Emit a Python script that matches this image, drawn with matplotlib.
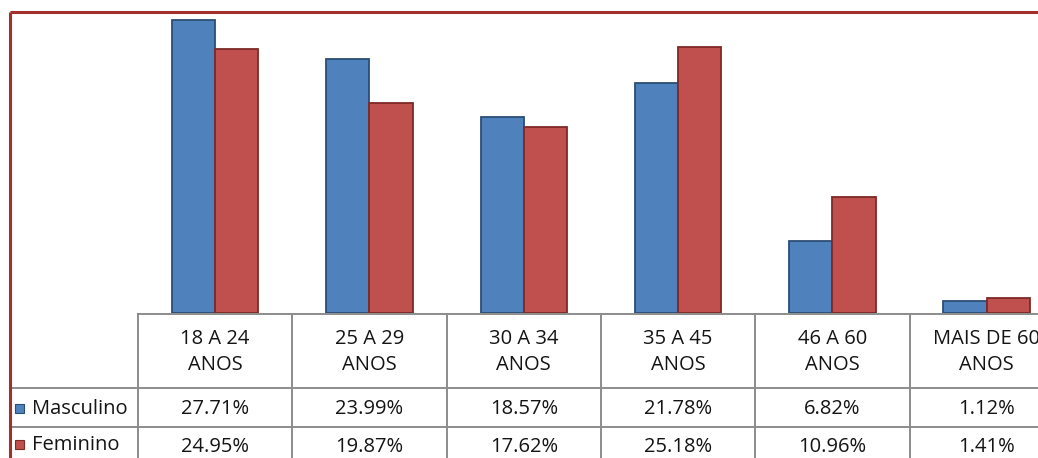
import matplotlib.pyplot as plt
import numpy as np

plt.rcParams['font.family'] = ['Open Sans', 'DejaVu Sans']

# Faixas etárias e percentuais por sexo
faixas = ['18 A 24\nANOS', '25 A 29\nANOS', '30 A 34\nANOS',
          '35 A 45\nANOS', '46 A 60\nANOS', 'MAIS DE 60\nANOS']
series = ['Masculino', 'Feminino']
masculino = [27.71, 23.99, 18.57, 21.78, 6.82, 1.12]
feminino = [24.95, 19.87, 17.62, 25.18, 10.96, 1.41]

cores = ['#4f81bd', '#c0504d']
bordas = ['#2c4d75', '#7d2a28']

W, H = 1038, 458
fig = plt.figure(figsize=(W / 100, H / 100), dpi=100)

# layout in pixels
col_w = 154.3
x0 = 138
base_y = 313
px_per_pct = 10.574
top_y = 12

ax = fig.add_axes([x0 / W, (H - base_y) / H, 6 * col_w / W, (base_y - top_y) / H])
x = np.arange(len(faixas)) + 0.5
bw = 0.28
for i, (vals, c, e) in enumerate(zip([masculino, feminino], cores, bordas)):
    ax.bar(x + (i - 0.5) * bw, vals, width=bw, color=c, edgecolor=e, linewidth=1.3)
ax.set_xlim(0, len(faixas))
ax.set_ylim(0, (base_y - top_y) / px_per_pct)
ax.axis('off')

# overlay in pixel coordinates for the data table and the frame
ov = fig.add_axes([0, 0, 1, 1], zorder=-1)
ov.set_xlim(0, W)
ov.set_ylim(H, 0)
ov.axis('off')

grid = '#8c8c8c'
row_top = 314
row_m = 388
row_f = 427
row_end = 470
right = x0 + 6 * col_w

ov.plot([x0, right], [row_top, row_top], color=grid, lw=1.4)
ov.plot([10, right], [row_m, row_m], color=grid, lw=1.4)
ov.plot([10, right], [row_f, row_f], color=grid, lw=1.4)
for k in range(len(faixas) + 1):
    xx = x0 + k * col_w
    ov.plot([xx, xx], [row_top, row_end], color=grid, lw=1.4)

txt = '#141414'
fs = 14.5
for k, lab in enumerate(faixas):
    cx = x0 + (k + 0.5) * col_w
    ov.text(cx, (row_top + row_m) / 2 + 1, lab, ha='center', va='center',
            fontsize=fs, color=txt, linespacing=1.45)
    ov.text(cx, (row_m + row_f) / 2 + 1, f'{masculino[k]:.2f}%', ha='center',
            va='center', fontsize=fs, color=txt)
    ov.text(cx, (row_f + row_end) / 2 - 2, f'{feminino[k]:.2f}%', ha='center',
            va='center', fontsize=fs, color=txt)

# series keys in the row headers
for yy, nome, c, e in zip([(row_m + row_f) / 2 + 1, (row_f + 458) / 2 + 2], series, cores, bordas):
    ov.add_patch(plt.Rectangle((15, yy - 4.5), 9, 9, facecolor=c, edgecolor=e, lw=0.8))
    ov.text(32, yy, nome, ha='left', va='center', fontsize=fs, color=txt)

# chart frame
ov.plot([10, 10], [12, H + 5], color='#a3302c', lw=2.2, solid_capstyle='butt')
ov.plot([10, W + 5], [12, 12], color='#a3302c', lw=2.2, solid_capstyle='butt')

fig.savefig('out.png', dpi=100, facecolor='white')
